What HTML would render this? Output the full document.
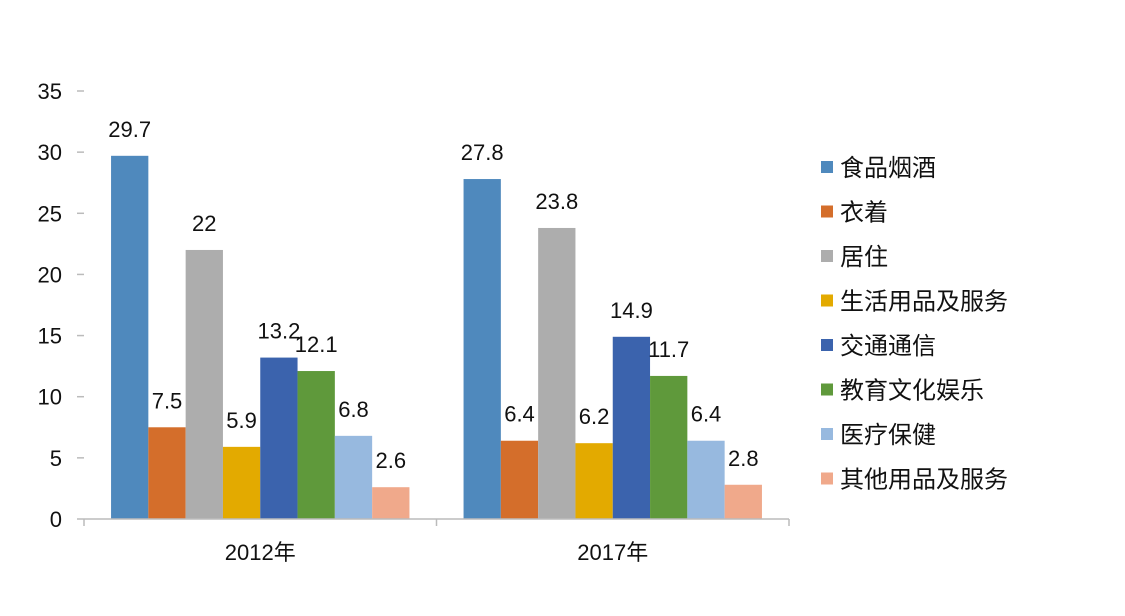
<!DOCTYPE html>
<html><head><meta charset="utf-8"><style>
body{margin:0;background:#fff;}
svg text{font-family:"Liberation Sans","Noto Sans CJK SC",sans-serif;fill:#111;}
</style></head><body>
<svg id="chart" width="1125" height="611" xmlns="http://www.w3.org/2000/svg"></svg>
<script>
const categories=["2012年","2017年"];
const seriesNames=["食品烟酒","衣着","居住","生活用品及服务","交通通信","教育文化娱乐","医疗保健","其他用品及服务"];
const s2012=[29.7,7.5,22,5.9,13.2,12.1,6.8,2.6];
const s2017=[27.8,6.4,23.8,6.2,14.9,11.7,6.4,2.8];
const yTicks=[0,5,10,15,20,25,30,35];
const colors=["#4f89bd","#d46e2b","#adadad","#e3aa00","#3b63ad","#5f993b","#97b9df","#f0a98b"];
const svg=document.getElementById('chart');
const NS="http://www.w3.org/2000/svg";
const x0=84,x1=789,yBase=519,yTop=91,yMax=35;
const y=v=>yBase-(v/yMax)*(yBase-yTop);
const groupW=(x1-x0)/categories.length;
const barW=37.3,pad=(groupW-barW*8)/2;
function mk(tag,attrs,txt){const e=document.createElementNS(NS,tag);for(const k in attrs)e.setAttribute(k,attrs[k]);if(txt!==undefined)e.textContent=txt;svg.appendChild(e);return e;}
yTicks.forEach(t=>{
  const l=mk('line',{x1:77,x2:84,y1:y(t),y2:y(t),stroke:'#bbb','stroke-width':1.5});
  
  
  const tx=mk('text',{x:62,y:y(t)+8,'text-anchor':'end','font-size':22},t);
  
  
});
const data=[s2012,s2017];
categories.forEach((c,gi)=>{
  const gx=x0+gi*groupW;
  data[gi].forEach((v,i)=>{
    const bx=gx+pad+i*barW;
    const r=mk('rect',{x:bx,y:y(v),width:barW,height:yBase-y(v),fill:colors[i]});
    
    
    const t=mk('text',{x:bx+barW/2,y:y(v)-19,'text-anchor':'middle','font-size':22},v);
    
    
  });
  const ct=mk('text',{x:gx+groupW/2,y:560,'text-anchor':'middle','font-size':22},c);
  
  
});
const ax=mk('line',{x1:x0,x2:x1,y1:yBase,y2:yBase,stroke:'#bbb','stroke-width':1.5});


for(let g=0;g<=categories.length;g++){
  const tk=mk('line',{x1:x0+g*groupW,x2:x0+g*groupW,y1:yBase,y2:yBase+7,stroke:'#bbb','stroke-width':1.5});
  
  
}
seriesNames.forEach((n,i)=>{
  const ly=167+i*44.5;
  const r=mk('rect',{x:821,y:ly-6,width:12,height:12,fill:colors[i]});
  
  
  const t=mk('text',{x:840,y:ly+9,'font-size':24},n);
  
  
});
</script>
</body></html>
